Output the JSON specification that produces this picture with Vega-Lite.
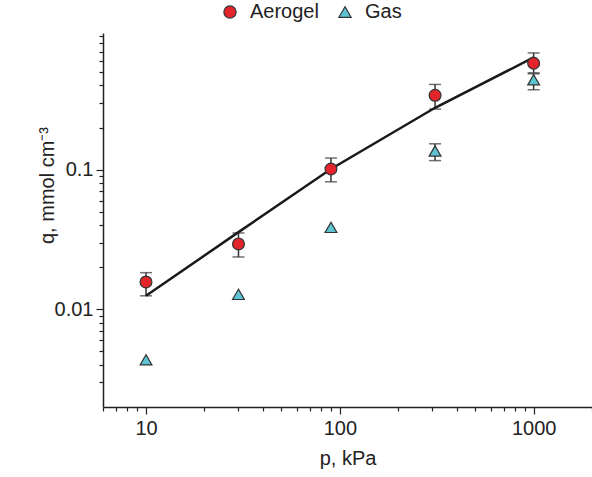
{
  "$schema": "https://vega.github.io/schema/vega-lite/v6.json",
  "autosize": {"type": "none"},
  "width": 489,
  "height": 374,
  "padding": {"left": 103, "top": 33, "right": 0, "bottom": 70},
  "background": "white",
  "config": {
    "view": {"stroke": null},
    "font": "Liberation Sans",
    "axis": {
      "domainColor": "#222",
      "domainWidth": 1.5,
      "tickColor": "#222",
      "tickWidth": 1.2,
      "grid": false,
      "labelFont": "Liberation Sans",
      "labelFontSize": 20,
      "labelColor": "#222",
      "titleFont": "Liberation Sans",
      "titleFontSize": 20,
      "titleFontWeight": "normal",
      "titleColor": "#222"
    }
  },
  "datasets": {
    "pts": [
      {"series": "Aerogel", "p": 10, "q": 0.0157, "lo": 0.0125, "hi": 0.0183},
      {"series": "Aerogel", "p": 30, "q": 0.0294, "lo": 0.0237, "hi": 0.0352},
      {"series": "Aerogel", "p": 90, "q": 0.101, "lo": 0.0818, "hi": 0.121},
      {"series": "Aerogel", "p": 310, "q": 0.34, "lo": 0.271, "hi": 0.407},
      {"series": "Aerogel", "p": 1000, "q": 0.577, "lo": 0.493, "hi": 0.684},
      {"series": "Gas", "p": 10, "q": 0.00435},
      {"series": "Gas", "p": 30, "q": 0.0128},
      {"series": "Gas", "p": 90, "q": 0.0386},
      {"series": "Gas", "p": 310, "q": 0.136, "lo": 0.116, "hi": 0.153},
      {"series": "Gas", "p": 1000, "q": 0.44, "lo": 0.373, "hi": 0.485}
    ],
    "fit": [
      {"p": 10, "q": 0.0125},
      {"p": 30, "q": 0.0357},
      {"p": 90, "q": 0.101},
      {"p": 310, "q": 0.277},
      {"p": 1000, "q": 0.635}
    ]
  },
  "layer": [
    {
      "data": {"name": "pts"},
      "transform": [{"filter": "isValid(datum.lo)"}],
      "mark": {"type": "errorbar", "ticks": {"size": 12, "thickness": 1.5, "color": "#333"}, "rule": {"strokeWidth": 1.5, "color": "#333"}},
      "encoding": {
        "x": {"field": "p", "type": "quantitative", "title": "p, kPa", "scale": {"type": "log", "domain": [6, 2000], "nice": false}},
        "y": {"field": "lo", "type": "quantitative", "title": "q, mmol cm⁻³", "scale": {"type": "log", "domain": [0.002, 0.95], "nice": false}},
        "y2": {"field": "hi"}
      }
    },
    {
      "data": {"name": "fit"},
      "mark": {"type": "line", "color": "#1a1a1a", "strokeWidth": 2.5},
      "encoding": {
        "x": {"field": "p", "type": "quantitative", "title": "p, kPa"},
        "y": {"field": "q", "type": "quantitative", "title": "q, mmol cm⁻³"}
      }
    },
    {
      "data": {"name": "pts"},
      "mark": {"type": "point", "filled": true, "opacity": 1, "stroke": "#333", "strokeWidth": 1.2, "size": 140},
      "encoding": {
        "x": {
          "field": "p", "type": "quantitative",
          "scale": {"type": "log", "domain": [6, 2000], "nice": false},
          "axis": {
            "title": "p, kPa",
            "values": [6, 7, 8, 9, 10, 20, 30, 40, 50, 60, 70, 80, 90, 100, 200, 300, 400, 500, 600, 700, 800, 900, 1000, 2000],
            "labelExpr": "datum.value == 10 ? '10' : datum.value == 100 ? '100' : datum.value == 1000 ? '1000' : ''",
            "tickSize": {"condition": {"test": "datum.value == 10 || datum.value == 100 || datum.value == 1000", "value": 7}, "value": 4},
            "labelPadding": 4,
            "titlePadding": 10,
            "labelFlush": false,
            "labelOverlap": false
          }
        },
        "y": {
          "field": "q", "type": "quantitative",
          "scale": {"type": "log", "domain": [0.002, 0.95], "nice": false},
          "axis": {
            "title": "q, mmol cm⁻³",
            "values": [0.003, 0.004, 0.005, 0.006, 0.007, 0.008, 0.009, 0.01, 0.02, 0.03, 0.04, 0.05, 0.06, 0.07, 0.08, 0.09, 0.1, 0.2, 0.3, 0.4, 0.5, 0.6, 0.7, 0.8, 0.9],
            "labelExpr": "datum.value == 0.01 ? '0.01' : datum.value == 0.1 ? '0.1' : ''",
            "tickSize": {"condition": {"test": "datum.value == 0.01 || datum.value == 0.1", "value": 7}, "value": 4},
            "labelPadding": 3,
            "titleX": -46,
            "titleY": 152,
            "labelFlush": false,
            "labelOverlap": false
          }
        },
        "color": {
          "field": "series", "type": "nominal",
          "scale": {"domain": ["Aerogel", "Gas"], "range": ["#e3242b", "#5ec4d1"]},
          "legend": {
            "title": null,
            "orient": "none",
            "direction": "horizontal",
            "legendX": 117,
            "legendY": -31,
            "labelFontSize": 20,
            "labelColor": "#222",
            "symbolSize": 150,
            "symbolStrokeColor": "#333",
            "symbolStrokeWidth": 1.2,
            "columnPadding": 16,
            "labelOffset": 10
          }
        },
        "shape": {
          "field": "series", "type": "nominal",
          "scale": {"domain": ["Aerogel", "Gas"], "range": ["circle", "triangle-up"]},
          "legend": null
        }
      }
    }
  ]
}
